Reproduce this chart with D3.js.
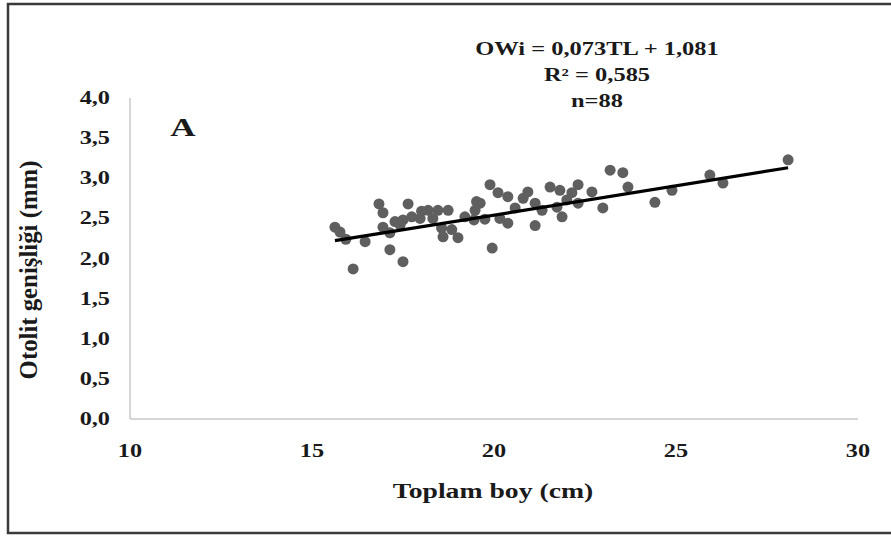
<!DOCTYPE html>
<html><head><meta charset="utf-8">
<script src="https://cdn.jsdelivr.net/npm/d3@7"></script>
<style>body{margin:0;background:#fff}svg{display:block}</style>
</head><body>
<script>
const totalLength = [15.63,15.77,15.93,16.13,16.46,16.84,16.95,16.95,17.14,17.14,17.28,17.42,17.5,17.64,17.5,17.74,18.01,18.19,17.97,18.46,18.74,18.32,18.56,18.6,18.84,19.01,19.2,19.52,19.48,19.89,19.62,20.11,20.38,20.8,20.93,21.13,21.32,21.54,19.45,20.38,20.58,21.13,19.95,21.81,22.31,22.14,22.69,23.19,23.54,23.68,22.99,21.87,21.73,22.31,24.42,24.89,25.93,26.29,28.08,20.16,19.75,22.0];
const otolithWidth = [2.39,2.33,2.24,1.87,2.21,2.68,2.57,2.39,2.11,2.32,2.46,2.42,1.96,2.68,2.48,2.52,2.59,2.60,2.50,2.60,2.60,2.50,2.38,2.27,2.36,2.26,2.52,2.71,2.60,2.92,2.69,2.82,2.77,2.75,2.83,2.69,2.60,2.89,2.48,2.44,2.63,2.41,2.13,2.85,2.92,2.82,2.83,3.10,3.07,2.89,2.63,2.52,2.64,2.69,2.70,2.85,3.04,2.94,3.23,2.50,2.49,2.73];
const xTicks = [10,15,20,25,30];
const yTicks = [0,0.5,1,1.5,2,2.5,3,3.5,4];
const slope = 0.073, intercept = 1.081;
const equationLines = ["OWi = 0,073TL + 1,081","R² = 0,585","n=88"];

const W=891,H=538;
const svg=d3.select("body").append("svg").attr("width",W).attr("height",H);
svg.append("rect").attr("x",8).attr("y",4).attr("width",900).attr("height",529)
  .attr("fill","none").attr("stroke","#3a3a3a").attr("stroke-width",2.5);

const x=d3.scaleLinear().domain([10,30]).range([130,858]);
const y=d3.scaleLinear().domain([0,4]).range([419,98]);
const font="'Liberation Serif','Times New Roman',serif";
const SX=1.35;

function stretched(g, tx, ty, size, anchor, txt, sx){
  return g.append("text")
    .attr("transform",`translate(${tx},${ty}) scale(${sx||SX},1)`)
    .attr("text-anchor",anchor)
    .attr("font-family",font).attr("font-weight","bold").attr("font-size",size).attr("fill","#1a1a1a")
    .text(txt);
}

// axis lines
svg.append("line").attr("x1",x(10)).attr("x2",x(30)).attr("y1",y(0)).attr("y2",y(0)).attr("stroke","#c8c8c8").attr("stroke-width",1.5);
svg.append("line").attr("x1",x(10)).attr("x2",x(10)).attr("y1",y(0)).attr("y2",y(4)).attr("stroke","#c8c8c8").attr("stroke-width",1.5);

const fmt=d=>d3.format(".1f")(d).replace(".",",");
yTicks.forEach(d=>stretched(svg,110,y(d)+6,18,"end",fmt(d)));
xTicks.forEach(d=>stretched(svg,x(d),457,18,"middle",String(d)));

// points
svg.selectAll(".pt").data(totalLength).enter().append("circle")
  .attr("cx",d=>x(d)).attr("cy",(d,i)=>y(otolithWidth[i])).attr("r",5.5).attr("fill","#5f5f5f");

// trend line
const xmin=d3.min(totalLength), xmax=d3.max(totalLength);
svg.append("line").attr("x1",x(xmin)).attr("x2",x(xmax))
  .attr("y1",y(slope*xmin+intercept)).attr("y2",y(slope*xmax+intercept))
  .attr("stroke","#000").attr("stroke-width",3.2);

// titles
stretched(svg,493,498,21,"middle","Toplam boy (cm)",1.32);
svg.append("text").attr("transform","translate(37,270) rotate(-90) scale(1.18,1.25)").attr("text-anchor","middle")
  .attr("font-family",font).attr("font-weight","bold").attr("font-size",21).attr("fill","#1a1a1a")
  .text("Otolit genişliği (mm)");
stretched(svg,183,136,25,"middle","A",1.4);
equationLines.forEach((t,i)=>stretched(svg,597,55+i*26,18,"middle",t,1.36));
</script>
</body></html>
